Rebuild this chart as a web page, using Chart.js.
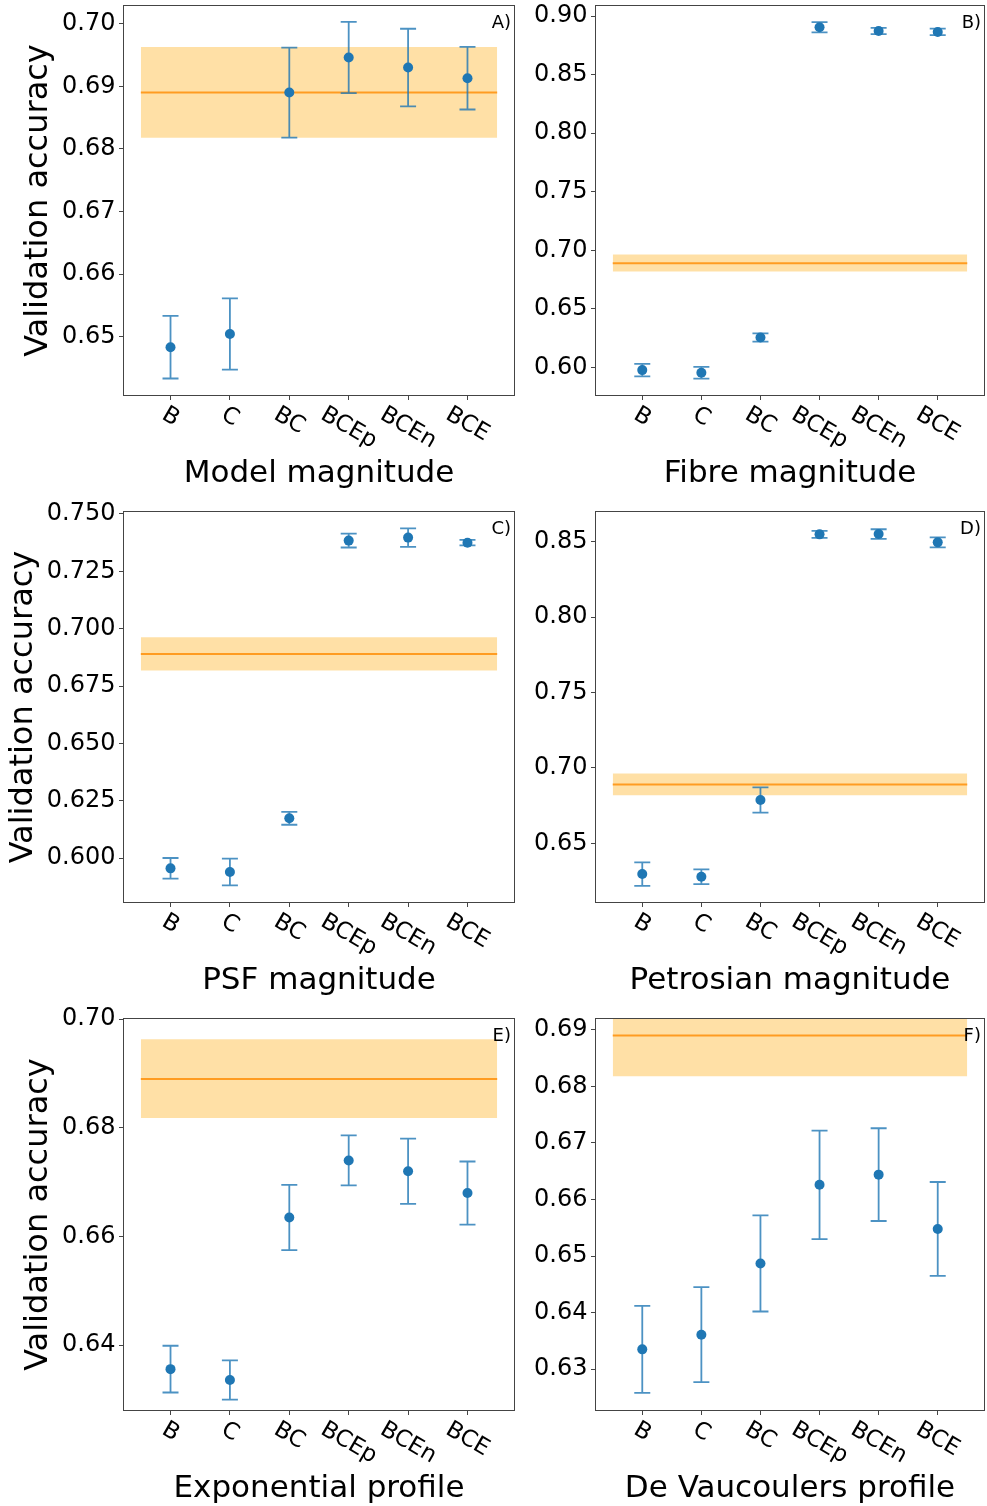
<!DOCTYPE html>
<html><head><meta charset="utf-8">
<script src="https://cdn.jsdelivr.net/npm/chart.js@4.4.1/dist/chart.umd.min.js"></script>
<style>
html,body{margin:0;padding:0;background:#fff;overflow:hidden;width:987px;height:1506px;position:relative;}
canvas{position:absolute;}
</style></head><body>
<canvas id="pA" width="520" height="500" style="left:0;top:0"></canvas>
<canvas id="pB" width="470" height="500" style="left:520px;top:0"></canvas>
<canvas id="pC" width="520" height="506" style="left:0;top:500px"></canvas>
<canvas id="pD" width="470" height="506" style="left:520px;top:500px"></canvas>
<canvas id="pE" width="520" height="502" style="left:0;top:1006px"></canvas>
<canvas id="pF" width="470" height="502" style="left:520px;top:1006px"></canvas>
<script>
// ---------- data ----------
const categories = ['B', 'C', 'BC', 'BCEp', 'BCEn', 'BCE'];

const baselineMean = 0.689;
const baselineLow = 0.6818;
const baselineHigh = 0.6963;

const modelMean = [0.6483, 0.6504, 0.6890, 0.6946, 0.6930, 0.6913];
const modelErr  = [0.0050, 0.0057, 0.0072, 0.0057, 0.0062, 0.0050];
const modelTicks = ['0.65', '0.66', '0.67', '0.68', '0.69', '0.70'];
const modelRange = [0.6405, 0.7030];

const fibreMean = [0.5977, 0.5955, 0.6256, 0.8904, 0.8872, 0.8864];
const fibreErr  = [0.0053, 0.0050, 0.0035, 0.0043, 0.0026, 0.0028];
const fibreTicks = ['0.60', '0.65', '0.70', '0.75', '0.80', '0.85', '0.90'];
const fibreRange = [0.5756, 0.9094];

const psfMean = [0.5956, 0.5940, 0.6174, 0.7384, 0.7397, 0.7375];
const psfErr  = [0.0045, 0.0058, 0.0028, 0.0030, 0.0040, 0.0012];
const psfTicks = ['0.600', '0.625', '0.650', '0.675', '0.700', '0.725', '0.750'];
const psfRange = [0.5805, 0.7513];

const petroMean = [0.6296, 0.6278, 0.6787, 0.8549, 0.8551, 0.8496];
const petroErr  = [0.0078, 0.0049, 0.0084, 0.0023, 0.0032, 0.0033];
const petroTicks = ['0.65', '0.70', '0.75', '0.80', '0.85'];
const petroRange = [0.6104, 0.8704];

const expMean = [0.6356, 0.6336, 0.6635, 0.6740, 0.6720, 0.6680];
const expErr  = [0.0043, 0.0036, 0.0060, 0.0046, 0.0060, 0.0058];
const expTicks = ['0.64', '0.66', '0.68', '0.70'];
const expRange = [0.6279, 0.7002];

const devMean = [0.6335, 0.6361, 0.6487, 0.6626, 0.6644, 0.6548];
const devErr  = [0.0077, 0.0084, 0.0085, 0.0096, 0.0082, 0.0083];
const devTicks = ['0.63', '0.64', '0.65', '0.66', '0.67', '0.68', '0.69'];
const devRange = [0.6226, 0.6921];

// ---------- panels ----------
const XH = 96.6;
const panels = [
  {id: 'pA', xTitle: 'Model magnitude', letter: 'A)', mean: modelMean, err: modelErr, ticks: modelTicks, range: modelRange, yTitle: true,
   pad: {left: 19.8, top: 4, right: 4, bottom: 7.4}, yWidth: 103.2},
  {id: 'pB', xTitle: 'Fibre magnitude', letter: 'B)', mean: fibreMean, err: fibreErr, ticks: fibreTicks, range: fibreRange, yTitle: false,
   pad: {left: 0, top: 4, right: 2, bottom: 7.4}, yWidth: 75},
  {id: 'pC', xTitle: 'PSF magnitude', letter: 'C)', mean: psfMean, err: psfErr, ticks: psfTicks, range: psfRange, yTitle: true,
   pad: {left: 4.3, top: 11, right: 4, bottom: 6.4}, yWidth: 118.7},
  {id: 'pD', xTitle: 'Petrosian magnitude', letter: 'D)', mean: petroMean, err: petroErr, ticks: petroTicks, range: petroRange, yTitle: false,
   pad: {left: 0, top: 11, right: 2, bottom: 6.4}, yWidth: 75},
  {id: 'pE', xTitle: 'Exponential profile', letter: 'E)', mean: expMean, err: expErr, ticks: expTicks, range: expRange, yTitle: true,
   pad: {left: 19.8, top: 12, right: 4, bottom: 0.4}, yWidth: 103.2},
  {id: 'pF', xTitle: 'De Vaucoulers profile', letter: 'F)', mean: devMean, err: devErr, ticks: devTicks, range: devRange, yTitle: false,
   pad: {left: 0, top: 12, right: 2, bottom: 0.4}, yWidth: 75}
];

Chart.defaults.font.family = '"DejaVu Sans", sans-serif';
Chart.defaults.color = '#000';

const SPINE = '#444';

const decoPlugin = {
  id: 'deco',
  afterDatasetDraw(chart, args, opts) {
    if (args.index !== 1) return; // error bars right after the baseline line, below the markers
    const ctx = chart.ctx, xs = chart.scales.x, ys = chart.scales.y;
    const ca = chart.chartArea;
    ctx.save();
    ctx.beginPath();
    ctx.rect(ca.left, ca.top, ca.right - ca.left, ca.bottom - ca.top);
    ctx.clip();
    ctx.strokeStyle = 'rgba(31,119,180,0.8)';
    ctx.lineWidth = 1.8;
    chart.data.datasets[0].data.forEach(d => {
      const x = xs.getPixelForValue(d.x);
      const y1 = ys.getPixelForValue(d.yMin);
      const y2 = ys.getPixelForValue(d.yMax);
      ctx.beginPath();
      ctx.moveTo(x, y1); ctx.lineTo(x, y2);
      ctx.moveTo(x - 8, y1); ctx.lineTo(x + 8, y1);
      ctx.moveTo(x - 8, y2); ctx.lineTo(x + 8, y2);
      ctx.stroke();
    });
    ctx.restore();
  },
  afterDraw(chart, args, opts) {
    const ctx = chart.ctx, ca = chart.chartArea, xs = chart.scales.x;
    ctx.save();
    // frame
    ctx.strokeStyle = SPINE;
    ctx.lineWidth = 1;
    const l = Math.round(ca.left) + 0.5, t = Math.round(ca.top) + 0.5;
    const r = Math.round(ca.right) - 0.5, b = Math.round(ca.bottom) - 0.5;
    ctx.strokeRect(l, t, r - l, b - t);
    // rotated category labels
    const s = 23, th = Math.PI / 6;
    ctx.font = s + 'px "DejaVu Sans"';
    ctx.fillStyle = '#000';
    const top = ca.bottom + 7;
    opts.labels.forEach((lab, i) => {
      const px = xs.getPixelForValue(i);
      const w = ctx.measureText(lab).width, h = s;
      const H = w * Math.sin(th) + h * Math.cos(th);
      ctx.save();
      ctx.translate(px, top + H / 2);
      ctx.rotate(th);
      ctx.textAlign = 'center';
      ctx.textBaseline = 'alphabetic';
      ctx.fillText(lab, 0, 0.26 * s);
      ctx.restore();
    });
    // panel letter
    ctx.font = '18px "DejaVu Sans"';
    ctx.textAlign = 'right';
    ctx.textBaseline = 'alphabetic';
    ctx.fillText(opts.letter, ca.right - 4, ca.top + 22.5);
    ctx.restore();
  }
};

panels.forEach(p => {
  const pts = categories.map((c, i) => ({x: i, y: p.mean[i], yMin: p.mean[i] - p.err[i], yMax: p.mean[i] + p.err[i]}));
  const tickVals = p.ticks.map(Number);
  new Chart(document.getElementById(p.id), {
    type: 'scatter',
    data: {
      datasets: [
        {label: 'mean', data: pts, pointRadius: 5, pointHoverRadius: 5, pointBackgroundColor: '#1f77b4',
         pointBorderWidth: 0, borderWidth: 0, order: 1},
        {type: 'line', label: 'baseline', data: [{x: -0.5, y: baselineMean}, {x: 5.5, y: baselineMean}],
         borderColor: 'rgba(255,140,0,0.8)', borderWidth: 2, pointRadius: 0, fill: false, showLine: true, order: 2},
        {type: 'line', label: 'band', data: [{x: -0.5, y: baselineHigh}, {x: 5.5, y: baselineHigh}],
         borderWidth: 0, borderColor: 'rgba(0,0,0,0)', backgroundColor: 'rgba(255,165,0,0.35)',
         pointRadius: 0, fill: {value: baselineLow}, showLine: true, order: 3}
      ]
    },
    options: {
      responsive: false,
      animation: false,
      devicePixelRatio: 1,
      layout: {padding: p.pad},
      plugins: {
        legend: {display: false},
        tooltip: {enabled: false},
        deco: {labels: categories, letter: p.letter}
      },
      scales: {
        x: {
          type: 'linear', position: 'bottom', min: -0.8, max: 5.8, bounds: 'data',
          afterBuildTicks: ax => { ax.ticks = categories.map((c, i) => ({value: i})); },
          afterFit: ax => { ax.height = XH; ax.paddingLeft = 0; ax.paddingRight = 0; },
          ticks: {display: false, autoSkip: false},
          grid: {display: true, drawOnChartArea: false, drawTicks: true, tickLength: 4, color: SPINE, lineWidth: 1},
          border: {display: false},
          title: {display: true, text: p.xTitle, font: {size: 31}, color: '#000', padding: 0}
        },
        y: {
          type: 'linear', position: 'left', min: p.range[0], max: p.range[1], bounds: 'data',
          afterBuildTicks: ax => { ax.ticks = tickVals.map(v => ({value: v})); },
          afterFit: ax => { ax.width = p.yWidth; ax.paddingTop = 0; ax.paddingBottom = 0; },
          ticks: {autoSkip: false, font: {size: 24}, color: '#000', padding: 3.5,
                  callback: (v, i) => p.ticks[i]},
          grid: {display: true, drawOnChartArea: false, drawTicks: true, tickLength: 4, color: SPINE, lineWidth: 1},
          border: {display: false},
          title: {display: p.yTitle, text: 'Validation accuracy', font: {size: 32}, color: '#000', padding: 0}
        }
      }
    },
    plugins: [decoPlugin]
  });
});
</script>
</body></html>
